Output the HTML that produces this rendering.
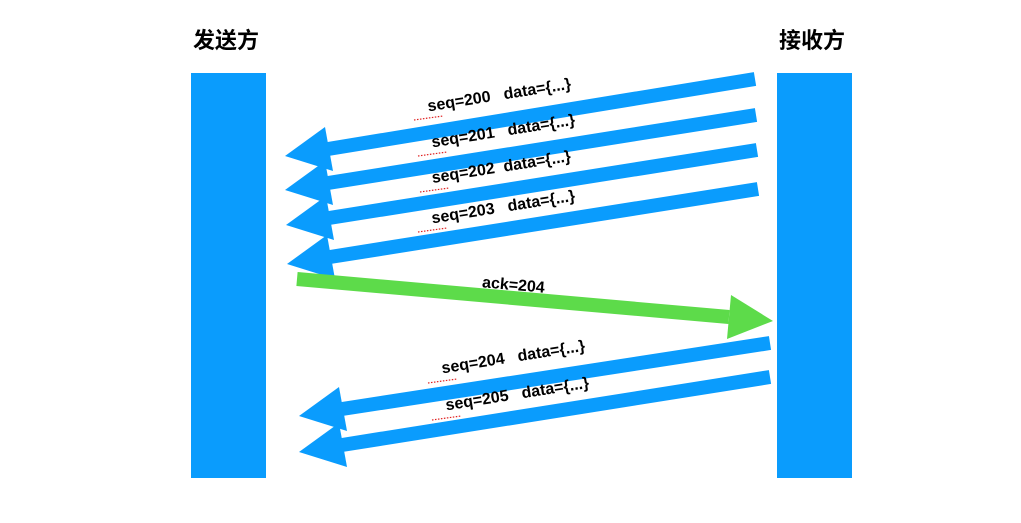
<!DOCTYPE html>
<html><head><meta charset="utf-8"><style>
html,body{margin:0;padding:0;background:#fff;}
svg{display:block;}
text{font-family:"Liberation Sans","Noto Sans CJK SC",sans-serif;font-weight:bold;fill:#000;}
</style></head><body>
<svg width="1021" height="523" viewBox="0 0 1021 523" xmlns="http://www.w3.org/2000/svg">
<rect x="191" y="73" width="75" height="405" fill="#0a9cfd"/>
<rect x="777" y="73" width="75" height="405" fill="#0a9cfd"/>
<text x="193" y="48" font-size="22">发送方</text>
<text x="779" y="48" font-size="22">接收方</text>
<g stroke="#0a9cfd" stroke-width="14">
<line x1="755" y1="79" x2="328" y2="149"/>
<line x1="756" y1="115" x2="328" y2="183"/>
<line x1="757" y1="150" x2="329" y2="218"/>
<line x1="758" y1="189" x2="330" y2="257"/>
<line x1="770" y1="343" x2="342" y2="409"/>
<line x1="770" y1="377" x2="342" y2="445"/>
</g>
<g fill="#0a9cfd">
<polygon points="285,156 325,127 333,171"/>
<polygon points="285,190 325,161 333,205"/>
<polygon points="286,225 326,196 334,240"/>
<polygon points="287,264 327,235 335,279"/>
<polygon points="299,416 339,387 347,431"/>
<polygon points="299,452 339,423 347,467"/>
</g>
<line x1="297" y1="279" x2="729" y2="317" stroke="#5ddb4a" stroke-width="14"/>
<polygon points="773,321 731,295 727,339" fill="#5ddb4a"/>
<g font-size="16">
<text transform="translate(500,100) rotate(-9)" text-anchor="middle" xml:space="preserve">seq=200   data={...}</text>
<text transform="translate(504,136) rotate(-9)" text-anchor="middle" xml:space="preserve">seq=201   data={...}</text>
<text transform="translate(502,172) rotate(-9)" text-anchor="middle" xml:space="preserve">seq=202  data={...}</text>
<text transform="translate(504,212) rotate(-9)" text-anchor="middle" xml:space="preserve">seq=203   data={...}</text>
<text transform="translate(513,290) rotate(5)" text-anchor="middle">ack=204</text>
<text transform="translate(514,362) rotate(-9)" text-anchor="middle" xml:space="preserve">seq=204   data={...}</text>
<text transform="translate(518,399) rotate(-9)" text-anchor="middle" xml:space="preserve">seq=205   data={...}</text>
</g>
<g stroke="#e02020" stroke-width="1.2" stroke-dasharray="1.5,1.5">
<line x1="414" y1="120" x2="443" y2="116"/>
<line x1="418" y1="156" x2="447" y2="152"/>
<line x1="420" y1="192" x2="449" y2="188"/>
<line x1="418" y1="232" x2="447" y2="228"/>
<line x1="428" y1="383" x2="457" y2="379"/>
<line x1="432" y1="420" x2="461" y2="416"/>
</g>
</svg>
</body></html>
